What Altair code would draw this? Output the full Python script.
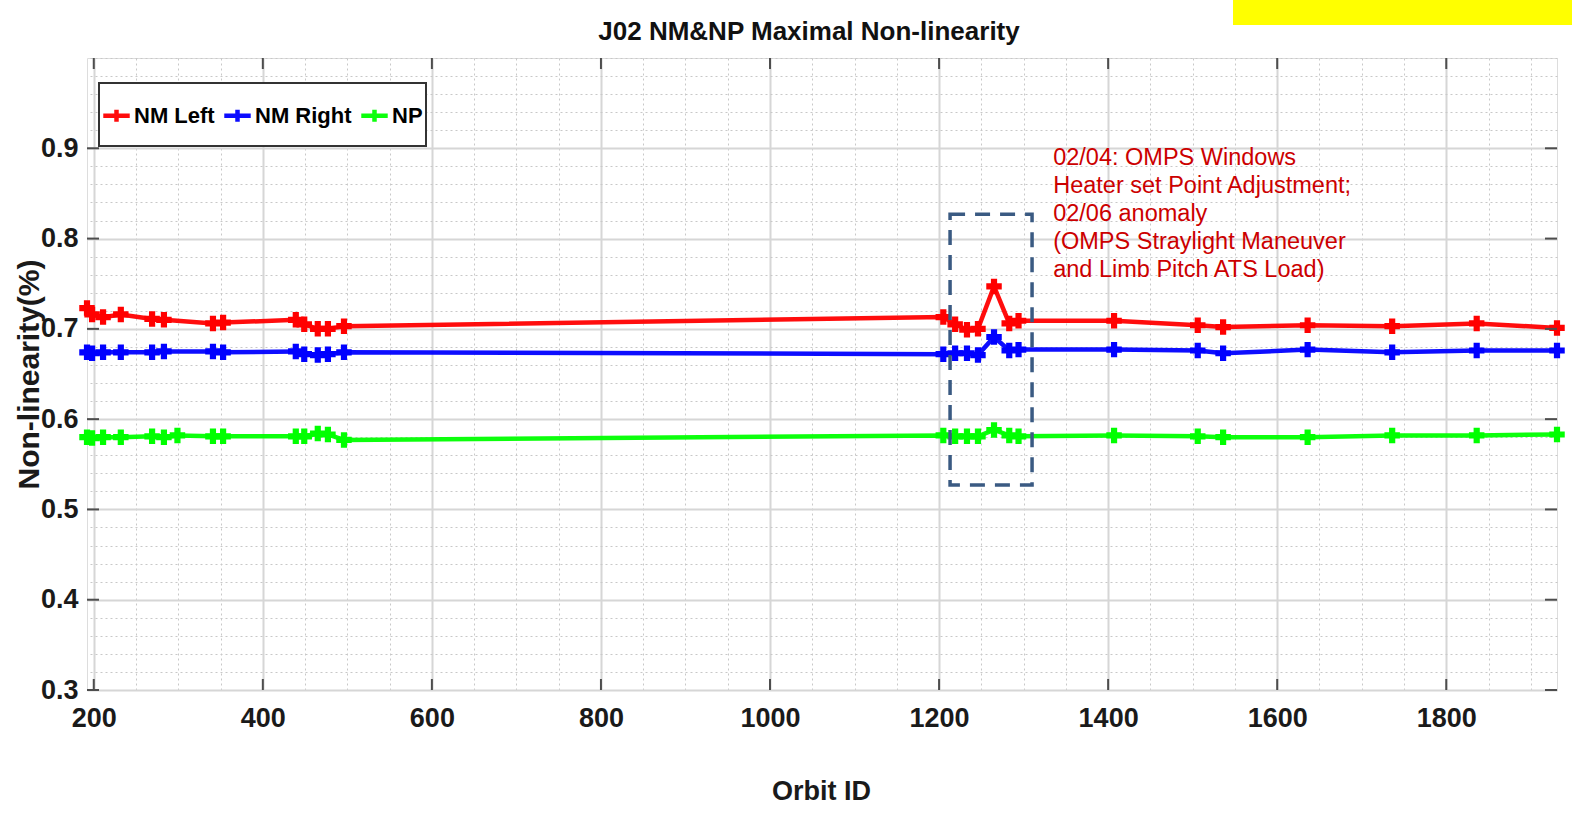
import altair as alt
import pandas as pd

# ---------------- data ----------------
nm_orbit = [192, 198, 211, 232, 269, 283, 341, 353, 439, 449, 465, 477, 496,
            1205, 1219, 1233, 1246, 1265, 1283, 1294, 1407, 1506, 1536, 1636, 1736, 1836, 1931]
nm_left = [0.723, 0.716, 0.713, 0.716, 0.711, 0.710, 0.706, 0.707, 0.710, 0.705, 0.700, 0.700, 0.703,
           0.713, 0.705, 0.699, 0.700, 0.747, 0.706, 0.709, 0.709, 0.704, 0.702, 0.704, 0.703, 0.706, 0.701]
nm_right = [0.674, 0.673, 0.674, 0.674, 0.674, 0.675, 0.675, 0.674, 0.675, 0.672, 0.671, 0.672, 0.674,
            0.672, 0.673, 0.673, 0.671, 0.691, 0.676, 0.677, 0.677, 0.676, 0.673, 0.677, 0.674, 0.676, 0.676]
np_orbit = [192, 198, 211, 232, 269, 283, 299, 341, 353, 439, 449, 465, 477, 496,
            1205, 1219, 1233, 1246, 1265, 1283, 1294, 1407, 1506, 1536, 1636, 1736, 1836, 1931]
np_vals = [0.580, 0.579, 0.580, 0.580, 0.581, 0.580, 0.582, 0.581, 0.581, 0.581, 0.581, 0.584, 0.583, 0.577,
           0.582, 0.581, 0.581, 0.581, 0.588, 0.582, 0.581, 0.582, 0.581, 0.580, 0.580, 0.582, 0.582, 0.583]

series_names = ["NM Left", "NM Right", "NP"]
series_colors = ["#ff0000", "#0000ff", "#00ff00"]

x_major = [200, 400, 600, 800, 1000, 1200, 1400, 1600, 1800]
y_major = [0.3, 0.4, 0.5, 0.6, 0.7, 0.8, 0.9]
x_minor = list(range(200, 1931, 50))
y_minor = [round(0.3 + 0.02 * i, 2) for i in range(36)]

box_orbit = [1213, 1310]
box_val = [0.527, 0.827]

note_orbit = [1335]
note_val = [0.902]
note_text = ["02/04: OMPS Windows\nHeater set Point Adjustment;\n02/06 anomaly\n(OMPS Straylight Maneuver\nand Limb Pitch ATS Load)"]

title_text = ["J02 NM&NP Maximal Non-linearity"]

# ---------------- tables ----------------
rows = []
for o, v in zip(nm_orbit, nm_left):
    rows.append({"orbit": o, "val": v, "series": "NM Left"})
for o, v in zip(nm_orbit, nm_right):
    rows.append({"orbit": o, "val": v, "series": "NM Right"})
for o, v in zip(np_orbit, np_vals):
    rows.append({"orbit": o, "val": v, "series": "NP"})
df = pd.DataFrame(rows)

FONT = "Liberation Sans, Arial, sans-serif"

W, H = 1470, 632
xs = alt.Scale(domain=[192, 1931], nice=False, zero=False)
ys = alt.Scale(domain=[0.3, 1.0], nice=False, zero=False)

legend = alt.Legend(
    title=None, orient="none", legendX=14, legendY=42, direction="horizontal",
    symbolType="M-1,0H1M0,-0.45V0.45", symbolSize=700, symbolStrokeWidth=4.5,
    labelFont=FONT, labelFontSize=22, labelFontWeight="bold", labelColor="black",
    labelOffset=2, columnPadding=0, padding=0,
)
color = alt.Color("series:N", scale=alt.Scale(domain=series_names, range=series_colors),
                  sort=series_names, legend=legend)

# minor dotted grid (separate axes on the far sides, no labels)
minor = alt.Chart(df).mark_point(opacity=0).encode(
    x=alt.X("orbit:Q", scale=xs, axis=alt.Axis(orient="top", values=x_minor, grid=True,
            gridColor="#c8c8c8", gridDash=[2, 3], gridWidth=1, labels=False, ticks=False,
            domain=False, title=None)),
    y=alt.Y("val:Q", scale=ys, axis=alt.Axis(orient="right", values=y_minor, grid=True,
            gridColor="#c8c8c8", gridDash=[2, 3], gridWidth=1, labels=False, ticks=False,
            domain=False, title=None)),
)

lines = alt.Chart(df).mark_line(strokeWidth=4.5, opacity=0.95).encode(
    x=alt.X("orbit:Q", scale=xs, axis=alt.Axis(
        orient="bottom", values=x_major, format="d", grid=True, gridColor="#d6d6d6", gridWidth=2,
        domain=False, ticks=False, labelFont=FONT, labelFontSize=27, labelFontWeight="bold",
        labelColor="#1a1a1a", labelPadding=15, labelFlush=False,
        title="Orbit ID", titleFont=FONT, titleFontSize=27, titleFontWeight="bold",
        titleColor="#1a1a1a", titleX=W / 2 - 1, titleY=101, titleAlign="center",
        titleBaseline="middle")),
    y=alt.Y("val:Q", scale=ys, axis=alt.Axis(
        orient="left", values=y_major, format=".1f", grid=True, gridColor="#d6d6d6",
        gridWidth=2, domain=False, ticks=False, labelFont=FONT, labelFontSize=27,
        labelFontWeight="bold", labelColor="#1a1a1a", labelPadding=9,
        title="Non-linearity(%)", titleFont=FONT, titleFontSize=30, titleFontWeight="bold",
        titleColor="#1a1a1a", titleAngle=270, titleX=-58, titleY=316,
        titleAlign="center", titleBaseline="middle")),
    color=color,
    order="orbit:Q",
    detail="series:N",
)

points = alt.Chart(df).mark_point(shape="cross", filled=True, size=240, opacity=1).encode(
    x=alt.X("orbit:Q", scale=xs, axis=None),
    y=alt.Y("val:Q", scale=ys, axis=None),
    color=color,
)

# inward ticks on all four sides
xt = pd.DataFrame({"v": x_major})
yt = pd.DataFrame({"v": y_major})
TICK = "#4d4d4d"
tick_b = alt.Chart(xt).mark_rule(color=TICK, strokeWidth=2).encode(
    x=alt.X("v:Q", scale=xs, axis=None), y=alt.value(H), y2=alt.value(H - 11))
tick_t = alt.Chart(xt).mark_rule(color=TICK, strokeWidth=2).encode(
    x=alt.X("v:Q", scale=xs, axis=None), y=alt.value(0), y2=alt.value(11))
tick_l = alt.Chart(yt).mark_rule(color=TICK, strokeWidth=2).encode(
    y=alt.Y("v:Q", scale=ys, axis=None), x=alt.value(0), x2=alt.value(12))
tick_r = alt.Chart(yt).mark_rule(color=TICK, strokeWidth=2).encode(
    y=alt.Y("v:Q", scale=ys, axis=None), x=alt.value(W), x2=alt.value(W - 12))

# legend frame
legend_frame = alt.Chart(pd.DataFrame({"a": [0]})).mark_rect(
    fill="white", stroke="#333333", strokeWidth=2).encode(
    x=alt.value(12), x2=alt.value(339), y=alt.value(25), y2=alt.value(88))

box_df = pd.DataFrame({"x1": [box_orbit[0]], "x2": [box_orbit[1]],
                       "y1": [box_val[0]], "y2": [box_val[1]]})
box = alt.Chart(box_df).mark_rect(filled=False, stroke="#3a5a82", strokeWidth=3.5,
                                  strokeDash=[15, 10]).encode(
    x=alt.X("x1:Q", scale=xs, axis=None), x2="x2:Q",
    y=alt.Y("y1:Q", scale=ys, axis=None), y2="y2:Q")

note_df = pd.DataFrame({"x": note_orbit, "y": note_val, "t": note_text})
note = alt.Chart(note_df).mark_text(align="left", baseline="top", lineBreak="\n",
                                    fontSize=23.5, lineHeight=28, font=FONT,
                                    color="#cc0000").encode(
    x=alt.X("x:Q", scale=xs, axis=None), y=alt.Y("y:Q", scale=ys, axis=None), text="t:N")

title = alt.Chart(pd.DataFrame({"t": title_text})).mark_text(
    align="center", baseline="middle", font=FONT, fontSize=26, fontWeight="bold",
    color="#111111").encode(text="t:N", x=alt.value(W / 2 - 13), y=alt.value(-26))

yellow = alt.Chart(pd.DataFrame({"a": [0]})).mark_rect(color="#ffff00").encode(
    x=alt.value(1146), x2=alt.value(1490), y=alt.value(-58), y2=alt.value(-33))

chart = alt.layer(minor, lines, points, tick_b, tick_t, tick_l, tick_r, legend_frame,
                  box, note, title, yellow).resolve_axis(
    x="independent", y="independent"
).properties(
    width=W, height=H,
    padding={"left": 87, "top": 58, "right": 15, "bottom": 123},
    autosize=alt.AutoSizeParams(type="none"),
).configure_view(stroke="#555555", strokeWidth=2).configure(background="white")

chart.save("out.html", embed_options={"renderer": "svg", "actions": False})
